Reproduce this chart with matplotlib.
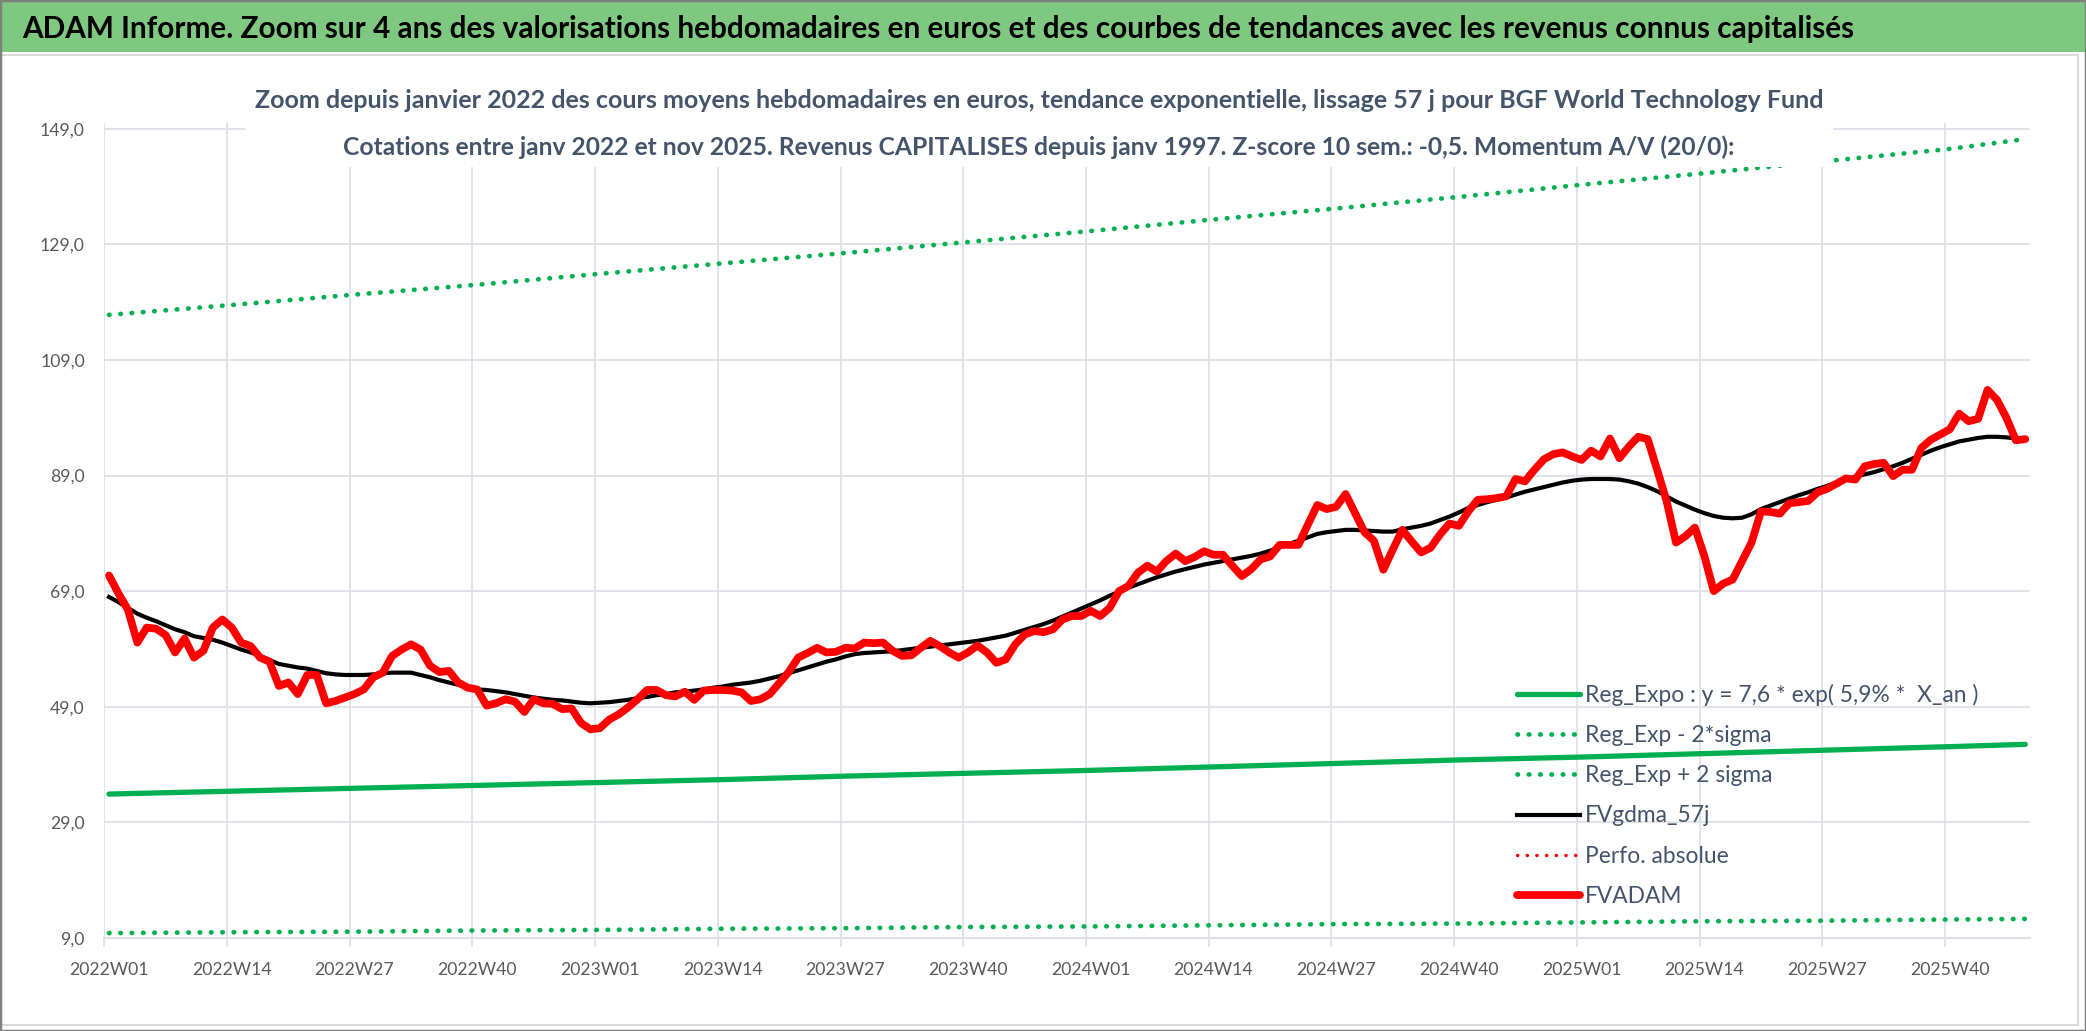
import matplotlib
matplotlib.use('Agg')
import matplotlib.pyplot as plt
from matplotlib.patches import Rectangle
import numpy as np

plt.rcParams['font.family'] = ['Lato', 'DejaVu Sans']

# valorisations hebdomadaires FVADAM, 2022W01 -> 2025W48
fvadam = [
    71.7, 68.6, 65.8, 60.1, 62.7, 62.5, 61.4, 58.4, 60.8, 57.5,
    58.7, 62.7, 64.1, 62.7, 60.1, 59.5, 57.5, 56.8, 52.6, 53.2,
    51.2, 54.5, 54.5, 49.6, 50.0, 50.6, 51.2, 52.0, 54.1, 54.9,
    57.8, 58.9, 59.8, 58.9, 56.1, 55.0, 55.2, 53.2, 52.3, 52.0,
    49.2, 49.6, 50.3, 49.9, 48.1, 50.3, 49.6, 49.5, 48.6, 48.7,
    46.2, 45.1, 45.3, 46.8, 47.7, 48.9, 50.3, 51.9, 51.9, 51.0,
    50.8, 51.6, 50.2, 51.8, 51.9, 51.9, 51.8, 51.5, 50.0, 50.3,
    51.2, 53.1, 55.0, 57.5, 58.3, 59.2, 58.4, 58.5, 59.2, 59.1,
    60.1, 60.0, 60.1, 58.7, 57.8, 57.9, 59.2, 60.4, 59.5, 58.4,
    57.5, 58.4, 59.6, 58.4, 56.6, 57.2, 59.8, 61.5, 62.1, 61.9,
    62.4, 64.1, 64.7, 64.7, 65.6, 64.7, 66.1, 69.0, 69.9, 72.2,
    73.4, 72.4, 74.2, 75.5, 74.2, 74.9, 75.9, 75.3, 75.3, 73.4,
    71.6, 72.8, 74.5, 75.0, 77.0, 77.0, 77.0, 80.5, 83.9, 83.2,
    83.6, 85.8, 82.5, 79.2, 77.7, 72.7, 76.2, 79.6, 77.6, 75.7,
    76.5, 78.8, 80.7, 80.3, 82.8, 84.8, 84.9, 85.1, 85.4, 88.4,
    88.0, 90.0, 91.8, 92.7, 93.0, 92.3, 91.7, 93.3, 92.3, 95.4,
    92.0, 94.0, 95.7, 95.3, 90.0, 84.6, 77.4, 78.5, 80.0, 75.1,
    69.0, 70.3, 71.0, 74.2, 77.4, 82.8, 82.7, 82.4, 84.2, 84.4,
    84.6, 86.1, 86.7, 87.6, 88.5, 88.3, 90.6, 91.0, 91.2, 88.9,
    90.0, 90.0, 93.8, 95.2, 96.1, 97.0, 99.7, 98.4, 98.8, 103.8,
    102.1, 99.0, 95.1, 95.3,
]

# moyenne mobile FVgdma_57j
fvgdma = [
    68.0, 67.1, 66.1, 65.1, 64.4, 63.8, 63.1, 62.4, 61.9, 61.2,
    60.9, 60.6, 60.1, 59.5, 58.9, 58.4, 57.8, 57.1, 56.4, 56.1,
    55.8, 55.6, 55.2, 54.8, 54.6, 54.5, 54.5, 54.5, 54.6, 54.8,
    54.9, 54.9, 54.9, 54.5, 54.1, 53.6, 53.2, 52.8, 52.3, 52.0,
    51.9, 51.7, 51.5, 51.2, 50.9, 50.6, 50.4, 50.2, 50.1, 49.9,
    49.7, 49.6, 49.7, 49.8, 50.0, 50.2, 50.5, 50.7, 51.0, 51.2,
    51.5, 51.6, 51.8, 52.0, 52.3, 52.5, 52.8, 53.0, 53.2, 53.5,
    53.9, 54.3, 54.8, 55.3, 55.8, 56.3, 56.8, 57.2, 57.7, 58.1,
    58.3, 58.4, 58.5, 58.6, 58.8, 59.0, 59.2, 59.4, 59.6, 59.8,
    60.0, 60.2, 60.4, 60.7, 61.0, 61.3, 61.8, 62.3, 62.8, 63.3,
    63.9, 64.6, 65.3, 66.0, 66.7, 67.4, 68.2, 68.9, 69.6, 70.2,
    70.8, 71.4, 71.9, 72.4, 72.8, 73.2, 73.6, 73.9, 74.2, 74.5,
    74.8, 75.1, 75.5, 76.0, 76.6, 77.2, 77.7, 78.3, 78.9, 79.2,
    79.4, 79.6, 79.6, 79.5, 79.4, 79.3, 79.3, 79.7, 80.0, 80.3,
    80.7, 81.3, 81.9, 82.6, 83.4, 83.9, 84.4, 84.8, 85.2, 85.7,
    86.2, 86.6, 87.0, 87.4, 87.8, 88.1, 88.3, 88.4, 88.4, 88.4,
    88.3, 88.0, 87.6, 87.0, 86.3, 85.4, 84.5, 83.8, 83.1, 82.5,
    82.0, 81.7, 81.6, 81.7, 82.3, 83.2, 83.8, 84.4, 85.0, 85.6,
    86.1, 86.7, 87.2, 87.8, 88.4, 88.8, 89.2, 89.6, 90.1, 90.6,
    91.2, 91.9, 92.6, 93.3, 93.9, 94.4, 94.9, 95.2, 95.5, 95.7,
    95.7, 95.6, 95.4, 95.2,
]

perfo_absolue = []

# tendances relevées aux semaines repères
trend_weeks = [0, 13, 26, 39, 52, 65, 78, 91, 104, 117, 130, 143, 156, 169, 182, 195, 203]
reg_expo = [33.9, 34.4, 34.9, 35.4, 35.9, 36.4, 37.0, 37.5, 38.0, 38.6, 39.2, 39.8, 40.3, 40.9, 41.5, 42.1, 42.5]
reg_moins = [9.85, 10.0, 10.1, 10.3, 10.4, 10.6, 10.7, 10.9, 11.0, 11.2, 11.4, 11.5, 11.7, 11.9, 12.0, 12.2, 12.3]
reg_plus = [116.8, 118.5, 120.3, 122.0, 123.9, 125.7, 127.5, 129.4, 131.3, 133.3, 135.2, 137.2, 139.3, 141.3, 143.4, 145.5, 147.2]

xtick_labels = ['2022W01', '2022W14', '2022W27', '2022W40', '2023W01', '2023W14', '2023W27', '2023W40',
                '2024W01', '2024W14', '2024W27', '2024W40', '2025W01', '2025W14', '2025W27', '2025W40']
yticks = [9, 29, 49, 69, 89, 109, 129, 149]
ytick_labels = ['9,0', '29,0', '49,0', '69,0', '89,0', '109,0', '129,0', '149,0']

W, H = 2086, 1031
fig = plt.figure(figsize=(W / 100, H / 100), dpi=100)
fig.patch.set_facecolor('white')

grid_col = '#DDE1E7'
txt_col = '#44546A'
tick_col = '#595959'
green = '#00B050'

# bandeau titre
fig.patches.append(Rectangle((0, 1 - 52 / H), 1, 52 / H, transform=fig.transFigure,
                             facecolor='#7EC880', edgecolor='none', zorder=1))
fig.text(22 / W, 1 - 29 / H,
         'ADAM Informe. Zoom sur 4 ans des valorisations hebdomadaires en euros et des courbes de tendances avec les revenus connus capitalisés',
         ha='left', va='center', fontsize=21.4, fontweight='bold', color='black', zorder=3)
# cadre du graphique
fig.patches.append(Rectangle((1 / W, 1 - 1025 / H), 2077 / W, 970 / H, transform=fig.transFigure,
                             facecolor='none', edgecolor='#D9D9D9', lw=1.5, zorder=1))
fig.patches.append(Rectangle((0, 0), 1, 1, transform=fig.transFigure,
                             facecolor='none', edgecolor='#808080', lw=2.5, zorder=4))

ax = fig.add_axes([104.3 / W, 93 / H, (2030 - 104.3) / W, (938 - 122.9) / H])
x = np.arange(len(fvadam))

ax.plot(trend_weeks, reg_expo, color=green, lw=3.8, solid_capstyle='round',
        label='Reg_Expo : y = 7,6 * exp( 5,9% *  X_an )')
ax.plot(trend_weeks, reg_moins, color=green, lw=3.4, linestyle=(0, (0.1, 2.3)),
        dash_capstyle='round', label='Reg_Exp - 2*sigma')
ax.plot(trend_weeks, reg_plus, color=green, lw=3.4, linestyle=(0, (0.1, 2.3)),
        dash_capstyle='round', label='Reg_Exp + 2 sigma')
ax.plot(x[:len(fvgdma)], fvgdma, color='black', lw=3.0, solid_joinstyle='round', label='FVgdma_57j')
ax.plot(x[:len(perfo_absolue)], perfo_absolue, color='#FF0000', lw=2.4, linestyle=(0, (0.1, 2.8)),
        dash_capstyle='round', label='Perfo. absolue')
ax.plot(x, fvadam, color='#FF0000', lw=5.6, solid_joinstyle='round', solid_capstyle='round', label='FVADAM')

ax.set_xlim(-0.5, len(fvadam) - 0.5)
ax.set_ylim(9, 150)

ax.set_yticks(yticks)
ax.set_yticklabels(ytick_labels)
ax.tick_params(axis='y', length=0, pad=14, labelsize=12.7, labelcolor=tick_col)

ax.set_xticks(np.arange(len(xtick_labels)) * 13 - 0.5)
ax.set_xticklabels([])
ax.set_xticks(np.arange(len(xtick_labels)) * 13, minor=True)
ax.set_xticklabels(xtick_labels, minor=True)
ax.tick_params(axis='x', which='major', length=6.5, width=1.3, color=grid_col)
ax.tick_params(axis='x', which='minor', length=0, pad=17, labelsize=12.7, labelcolor=tick_col)

ax.grid(True, which='major', color=grid_col, lw=1.3)
ax.set_axisbelow(True)
for side in ['top', 'right', 'left']:
    ax.spines[side].set_visible(False)
ax.spines['bottom'].set_color(grid_col)
ax.spines['bottom'].set_linewidth(1.5)

ax.legend(loc='upper left', bbox_to_anchor=(1517 / W, 1 - 684 / H), bbox_transform=fig.transFigure,
          frameon=False, fontsize=16.4, labelcolor=txt_col, handlelength=2.75, handletextpad=0.22,
          labelspacing=0.84, borderpad=0, borderaxespad=0)

# sous-titre sur fond blanc
fig.patches.append(Rectangle((246 / W, 1 - 167 / H), (1833 - 246) / W, 92 / H, transform=fig.transFigure,
                             facecolor='white', edgecolor='none', zorder=2))
fig.text(1039 / W, 1 - 100 / H,
         'Zoom depuis janvier 2022 des cours moyens hebdomadaires en euros, tendance exponentielle, lissage 57 j pour BGF World Technology Fund',
         ha='center', va='center', fontsize=18.0, fontweight='bold', color=txt_col, zorder=3)
fig.text(1039 / W, 1 - 147 / H,
         'Cotations entre janv 2022 et nov 2025. Revenus CAPITALISES depuis janv 1997. Z-score 10 sem.: -0,5. Momentum A/V (20/0):',
         ha='center', va='center', fontsize=17.7, fontweight='bold', color=txt_col, zorder=3)

fig.savefig('out.png', dpi=100)
